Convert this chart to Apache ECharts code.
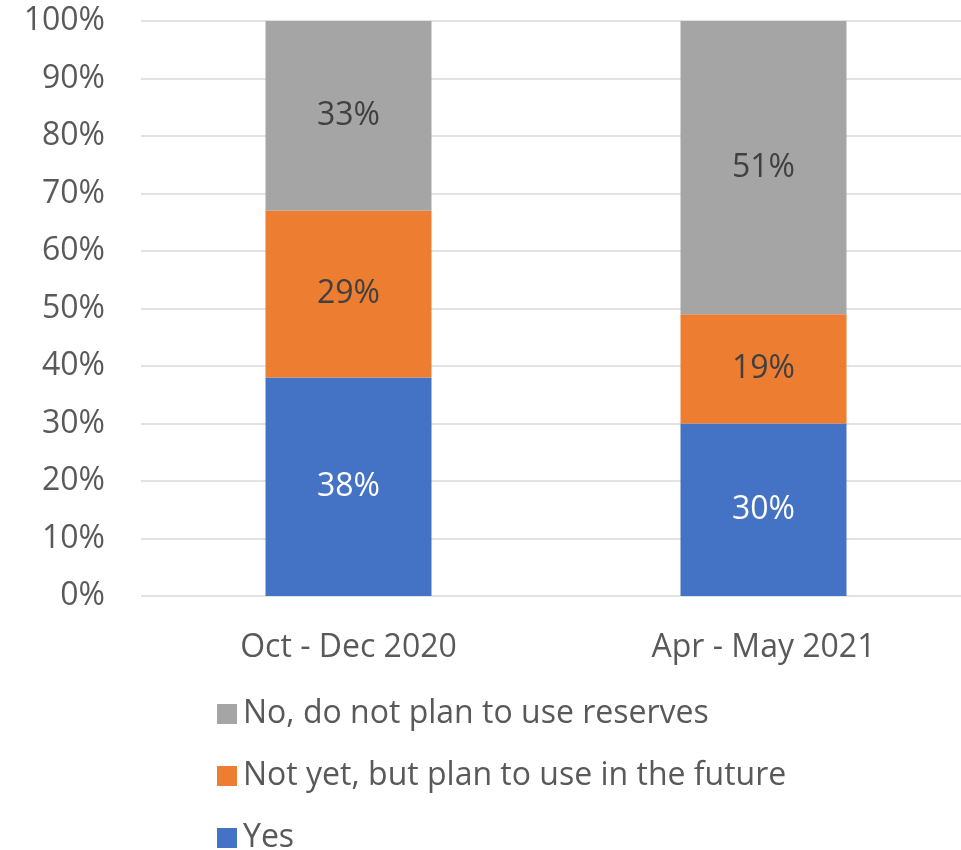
<!DOCTYPE html>
<html>
<head>
<meta charset="utf-8">
<script src="https://cdn.jsdelivr.net/npm/echarts@6/dist/echarts.min.js"></script>
<style>
  html, body { margin: 0; padding: 0; background: #ffffff; }
  #chart { width: 961px; height: 850px; }
</style>
</head>
<body>
<div id="chart"></div>
<script>
// Survey periods on the x axis
const categories = ['Oct - Dec 2020', 'Apr - May 2021'];
// Share of respondents per answer, in percent
const yesValues = [38, 30];
const notYetValues = [29, 19];
const noValues = [33, 51];
const seriesNames = ['Yes', 'Not yet, but plan to use in the future', 'No, do not plan to use reserves'];
const legendOrder = ['No, do not plan to use reserves', 'Not yet, but plan to use in the future', 'Yes'];

const FONT = '"Open Sans", sans-serif';
const TEXT = '#595959';
const SIZE = 32;

const chart = echarts.init(document.getElementById('chart'));

function barSeries(name, data, color, labelColor) {
  return {
    name: name,
    type: 'bar',
    stack: 'total',
    data: data,
    barWidth: '40%',
    itemStyle: { color: color },
    label: {
      show: true,
      position: 'inside',
      formatter: '{c}%',
      color: labelColor,
      fontFamily: FONT,
      fontSize: SIZE
    }
  };
}

chart.setOption({
  animation: false,
  backgroundColor: '#ffffff',
  grid: { left: 141, right: -10, top: 21, bottom: 254, outerBoundsMode: 'none', containLabel: false },
  xAxis: {
    type: 'category',
    data: categories,
    axisLine: { show: false },
    axisTick: { show: false },
    axisLabel: { color: TEXT, fontFamily: FONT, fontSize: SIZE, margin: 36 }
  },
  yAxis: {
    type: 'value',
    min: 0,
    max: 100,
    interval: 10,
    axisLine: { show: false },
    axisTick: { show: false },
    splitLine: { lineStyle: { color: '#D9D9D9', width: 1.5 } },
    axisLabel: { formatter: '{value}%', color: TEXT, fontFamily: FONT, fontSize: SIZE, margin: 36 }
  },
  legend: {
    data: legendOrder,
    orient: 'vertical',
    left: 212,
    top: 693,
    height: 160,
    icon: 'rect',
    itemWidth: 20,
    itemHeight: 20,
    itemGap: 30,
    textStyle: { color: TEXT, fontFamily: FONT, fontSize: SIZE, lineHeight: 30, padding: [0, 0, 0, 1] }
  },
  series: [
    barSeries(seriesNames[0], yesValues, '#4472C4', '#ffffff'),
    barSeries(seriesNames[1], notYetValues, '#ED7D31', '#404040'),
    barSeries(seriesNames[2], noValues, '#A5A5A5', '#404040')
  ]
});
</script>
</body>
</html>
